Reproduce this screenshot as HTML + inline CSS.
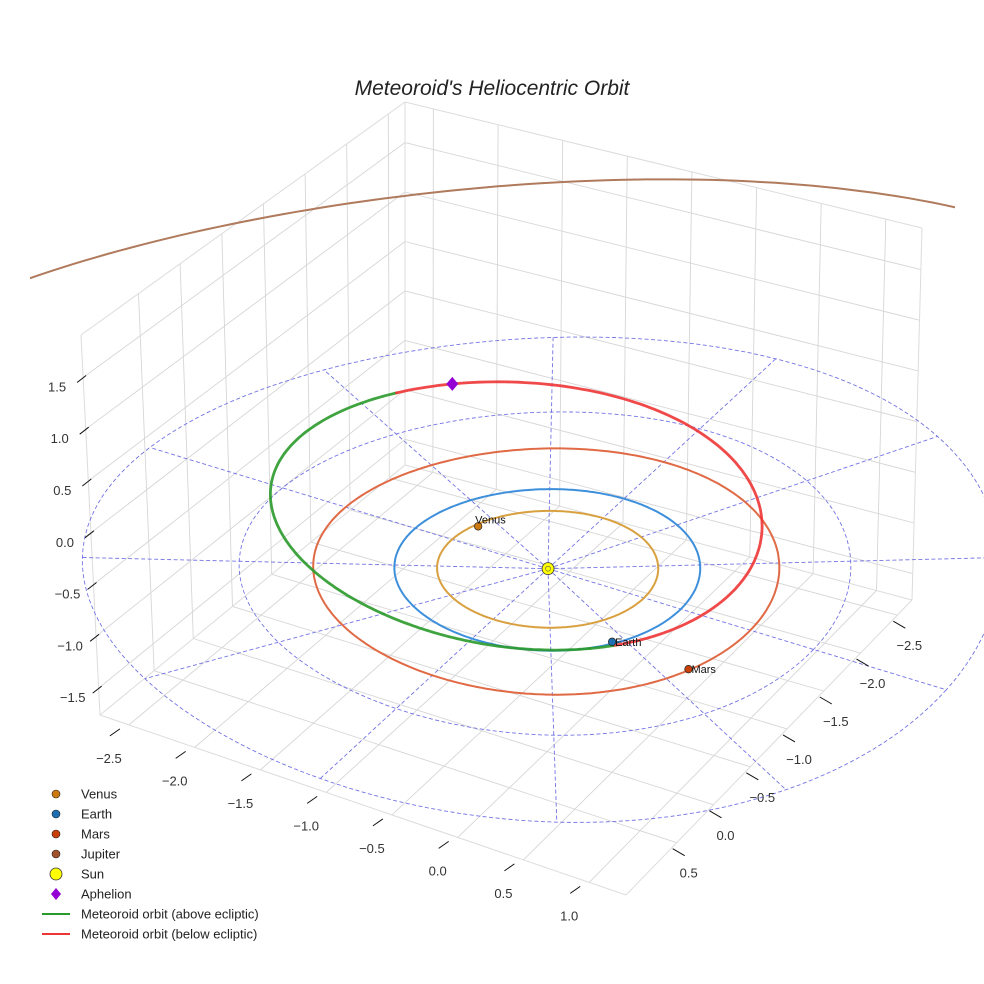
<!DOCTYPE html>
<html><head><meta charset="utf-8"><style>
html,body{margin:0;padding:0;background:#fff;}
svg{display:block;font-family:"Liberation Sans",sans-serif;}
</style></head><body>
<svg id="chart" width="984" height="984" viewBox="0 0 984 984" xmlns="http://www.w3.org/2000/svg">
<defs><clipPath id="clipJ"><rect x="30" y="0" width="925" height="700"/></clipPath></defs>
<rect width="984" height="984" fill="#fff"/>
<text x="492" y="95" text-anchor="middle" font-size="21" font-style="italic" fill="#222">Meteoroid's Heliocentric Orbit</text>
<g id="panes"></g>
<g id="ecl"></g>
<g id="orbits"></g>
<g id="met"></g>
<g id="marks"></g>
<g id="ticks"></g>
<g id="legend"></g>
</svg>
<script>
const xLim=[-2.72,1.28], yLim=[-2.7,1.19], zLim=[-1.76,1.91];
const xTicks=[-2.5,-2.0,-1.5,-1.0,-0.5,0.0,0.5,1.0];
const yTicks=[-2.5,-2.0,-1.5,-1.0,-0.5,0.0,0.5];
const zTicks=[-1.5,-1.0,-0.5,0.0,0.5,1.0,1.5];
const planetNames=['Venus','Earth','Mars','Jupiter'];
const planetRadii=[0.723,1.0,1.524,5.203];
const planetX=[-0.66,0.80,1.39];
const planetY=[-0.23,0.565,0.60];
const eclRadii=[1,2,3];
const radialAngles=[0,30,60,90,120,150,180,210,240,270,300,330];
const metA=1.77, metE=0.424, metInc=4, metNode=35.8, metArgPeri=9.2;
const orbitColors=['#d9a040','#3d8fdc','#e06a45','#b07a5c'];
const markerColors=['#cc7a10','#1f6fb0','#c8400a','#a0522d'];

const C={B:[405,465],L:[100,715],R:[912,600],F:[626,895],Bt:[405,102],Lt:[81,335],Rt:[922,228],Ft:[635,505]};
function bil(u,v,b,l,r,f){
  const a=(1-u)*(1-v),bb=(1-u)*v,c=u*(1-v),d=u*v;
  return [a*b[0]+bb*l[0]+c*r[0]+d*f[0], a*b[1]+bb*l[1]+c*r[1]+d*f[1]];
}
function proj(x,y,z){
  const u=(x-xLim[0])/(xLim[1]-xLim[0]), v=(y-yLim[0])/(yLim[1]-yLim[0]), w=(z-zLim[0])/(zLim[1]-zLim[0]);
  const p0=bil(u,v,C.B,C.L,C.R,C.F), p1=bil(u,v,C.Bt,C.Lt,C.Rt,C.Ft);
  return [p0[0]+w*(p1[0]-p0[0]), p0[1]+w*(p1[1]-p0[1])];
}
const NS='http://www.w3.org/2000/svg';
function mk(tag,attrs,parent){const e=document.createElementNS(NS,tag);for(const k in attrs)e.setAttribute(k,attrs[k]);parent.appendChild(e);return e;}
function line(p,q,attrs,parent){return mk('line',Object.assign({x1:p[0].toFixed(1),y1:p[1].toFixed(1),x2:q[0].toFixed(1),y2:q[1].toFixed(1)},attrs),parent);}
function pathFrom(pts){return pts.map((p,i)=>(i?'L':'M')+p[0].toFixed(1)+' '+p[1].toFixed(1)).join('');}

const [x0,x1]=xLim,[y0,y1]=yLim,[z0,z1]=zLim;
const panes=document.getElementById('panes');
const gs={stroke:'#d6d6d6','stroke-width':0.9};
xTicks.forEach(x=>{
  let e=line(proj(x,y0,z0),proj(x,y0,z1),gs,panes);
  
  
  e=line(proj(x,y0,z0),proj(x,y1,z0),gs,panes);
  
  
});
yTicks.forEach(y=>{
  let e=line(proj(x0,y,z0),proj(x0,y,z1),gs,panes);
  
  
  e=line(proj(x0,y,z0),proj(x1,y,z0),gs,panes);
  
  
});
zTicks.forEach(z=>{
  let e=line(proj(x0,y0,z),proj(x0,y1,z),gs,panes);
  
  
  e=line(proj(x0,y0,z),proj(x1,y0,z),gs,panes);
  
  
});
const es={stroke:'#dcdcdc','stroke-width':1};
[[[x0,y1,z0],[x0,y0,z0]],[[x0,y0,z0],[x1,y0,z0]],[[x0,y1,z0],[x1,y1,z0]],[[x1,y1,z0],[x1,y0,z0]],
 [[x0,y1,z0],[x0,y1,z1]],[[x0,y0,z0],[x0,y0,z1]],[[x1,y0,z0],[x1,y0,z1]],
 [[x0,y1,z1],[x0,y0,z1]],[[x0,y0,z1],[x1,y0,z1]]].forEach(s=>{
  const e=line(proj(...s[0]),proj(...s[1]),es,panes);
  
  
});

const ecl=document.getElementById('ecl');
const ds={stroke:'#5a5ae0','stroke-width':0.9,'stroke-dasharray':'4,2.5',fill:'none',opacity:0.85};
eclRadii.forEach(r=>{
  const pts=[];for(let t=0;t<=360;t+=2){const a=t*Math.PI/180;pts.push(proj(r*Math.cos(a),r*Math.sin(a),0));}
  const e=mk('path',Object.assign({d:pathFrom(pts)},ds),ecl);
  
  
});
radialAngles.forEach(t=>{
  const a=t*Math.PI/180,R=eclRadii[eclRadii.length-1];
  const e=line(proj(0,0,0),proj(R*Math.cos(a),R*Math.sin(a),0),ds,ecl);
  
  
});

const orb=document.getElementById('orbits');
planetRadii.forEach((r,i)=>{
  const pts=[];for(let t=0;t<=360;t+=1){const a=t*Math.PI/180;pts.push(proj(r*Math.cos(a),r*Math.sin(a),0));}
  const e=mk('path',{d:pathFrom(pts),fill:'none',stroke:orbitColors[i],'stroke-width':2},orb);
  if(i===3)e.setAttribute('clip-path','url(#clipJ)');
  
  
});

const met=document.getElementById('met');
function metPos(nu){
  const d=Math.PI/180,r=metA*(1-metE*metE)/(1+metE*Math.cos(nu*d)),u=(metArgPeri+nu)*d,O=metNode*d,I=metInc*d;
  return [r*(Math.cos(O)*Math.cos(u)-Math.sin(O)*Math.sin(u)*Math.cos(I)),
          r*(Math.sin(O)*Math.cos(u)+Math.cos(O)*Math.sin(u)*Math.cos(I)),
          r*Math.sin(u)*Math.sin(I)];
}
let seg=[],segUp=null;
function flush(){if(seg.length>1){const e=mk('path',{d:pathFrom(seg),fill:'none',stroke:segUp?'#2a9a2a':'#ee3535','stroke-width':2.8,'stroke-linecap':'round',opacity:0.9},met);
  
  }}
for(let nu=0;nu<=360;nu+=1){
  const p=metPos(nu),up=p[2]>=0,sp=proj(p[0],p[1],p[2]);
  if(segUp!==null&&up!==segUp){seg.push(sp);flush();seg=[seg[seg.length-1]];}
  segUp=up;seg.push(sp);
}
flush();

const marks=document.getElementById('marks');
planetX.forEach((x,i)=>{
  const p=proj(x,planetY[i],0);
  const c=mk('circle',{cx:p[0],cy:p[1],r:3.8,fill:markerColors[i],stroke:'#222','stroke-width':0.7},marks);
  
  
  const t=mk('text',{x:p[0]+(i===0?-3:3),y:p[1]+(i===0?-3:4),'font-size':11,fill:'#111'},marks);
  t.textContent=planetNames[i];
  
  
});
const sp=proj(0,0,0);
const sun=mk('circle',{cx:sp[0],cy:sp[1],r:6,fill:'#ffff00',stroke:'#333','stroke-width':0.8},marks);


mk('circle',{cx:sp[0],cy:sp[1],r:2.5,fill:'none',stroke:'#555','stroke-width':0.6},marks);
const ap=metPos(180),app=proj(ap[0],ap[1],ap[2]);
const aph=mk('path',{d:`M${app[0]} ${app[1]-7}L${app[0]+6} ${app[1]}L${app[0]} ${app[1]+7}L${app[0]-6} ${app[1]}Z`,fill:'#9400d3'},marks);



const tk=document.getElementById('ticks');
const ts={stroke:'#111','stroke-width':1};
function lbl(p,txt,name){const t=mk('text',{x:p[0].toFixed(1),y:p[1].toFixed(1),'font-size':13,fill:'#333','text-anchor':'middle'},tk);t.textContent=txt;
  }
const fmt=v=>(v<0?'\u2212':'')+Math.abs(v).toFixed(1);
xTicks.forEach(x=>{
  const p=proj(x,y1,z0);
  const e=line([p[0]-9,p[1]+4],[p[0]-19,p[1]+11],ts,tk);
  
  
  lbl([p[0]-20,p[1]+38],fmt(x),'x-tick-label');
});
yTicks.forEach(y=>{
  const p=proj(x1,y,z0);
  const e=line([p[0]-4,p[1]+6],[p[0]+8,p[1]+13],ts,tk);
  
  
  lbl([p[0]+12,p[1]+35],fmt(y),'y-tick-label');
});
zTicks.forEach(z=>{
  const p=proj(x0,y1,z);
  const e=line([p[0]+3,p[1]-2],[p[0]-6,p[1]+5],ts,tk);
  
  
  lbl([p[0]-26,p[1]+14],fmt(z),'z-tick-label');
});

const lg=document.getElementById('legend');
const legNames=['Venus','Earth','Mars','Jupiter','Sun','Aphelion','Meteoroid orbit (above ecliptic)','Meteoroid orbit (below ecliptic)'];
const legKinds=['dot','dot','dot','dot','sun','diamond','line','line'];
const legColors=['#cc7a10','#1f6fb0','#c8400a','#a0522d','#ffff00','#9400d3','#2a9a2a','#ee3535'];
legNames.forEach((n,i)=>{
  const y=794+i*20;
  const g=mk('g',{},lg);
  
  
  if(legKinds[i]==='dot')mk('circle',{cx:56,cy:y,r:4,fill:legColors[i],stroke:'#222','stroke-width':0.6},g);
  else if(legKinds[i]==='sun')mk('circle',{cx:56,cy:y,r:6,fill:legColors[i],stroke:'#333','stroke-width':0.8},g);
  else if(legKinds[i]==='diamond')mk('path',{d:`M56 ${y-6}L61 ${y}L56 ${y+6}L51 ${y}Z`,fill:legColors[i]},g);
  else mk('line',{x1:42,y1:y,x2:70,y2:y,stroke:legColors[i],'stroke-width':2},g);
  const t=mk('text',{x:81,y:y+4.5,'font-size':13,fill:'#222'},g);t.textContent=n;
});
</script>
</body></html>
